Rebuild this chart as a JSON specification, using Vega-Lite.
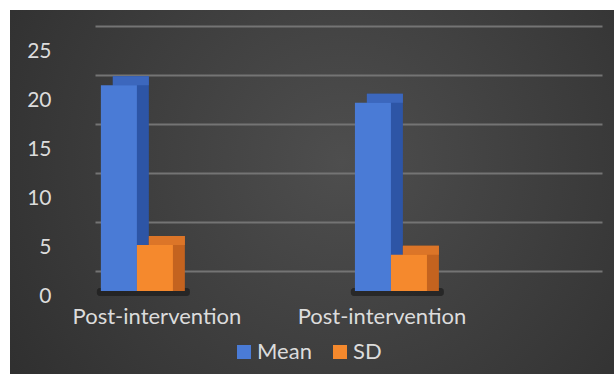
{
  "$schema": "https://vega.github.io/schema/vega-lite/v6.json",
  "width": 604,
  "height": 364,
  "autosize": "none",
  "padding": {"left": 10, "top": 10, "right": 0, "bottom": 0},
  "background": "white",
  "config": {
    "font": "Lato",
    "view": {
      "stroke": null,
      "fill": {"gradient": "radial", "x1": 0.55, "y1": 0.45, "r1": 0, "x2": 0.55, "y2": 0.45, "r2": 0.75,
        "stops": [{"offset": 0, "color": "#4e4e4e"}, {"offset": 1, "color": "#2b2b2b"}]}
    }
  },
  "data": {
    "values": [
      {"pair": 1, "group": "Post-intervention", "stat": "Mean", "value": 21.0},
      {"pair": 1, "group": "Post-intervention", "stat": "SD", "value": 4.7},
      {"pair": 2, "group": "Post-intervention", "stat": "Mean", "value": 19.2},
      {"pair": 2, "group": "Post-intervention", "stat": "SD", "value": 3.7}
    ]
  },
  "layer": [
    {
      "mark": {"type": "bar", "color": "#181818", "opacity": 0.4, "cornerRadius": 3},
      "encoding": {
        "x": {"field": "pair", "type": "ordinal", "scale": {"paddingInner": 0.634, "paddingOuter": 0.506, "align": 0.338}, "axis": null},
        "y": {"datum": 0.3, "type": "quantitative", "scale": {"domain": [-8.47, 28.67], "nice": false, "zero": false}, "axis": null},
        "y2": {"datum": -0.5}
      }
    },
    {
      "mark": {"type": "bar", "yOffset": -9, "y2Offset": -9},
      "encoding": {
        "x": {"field": "pair", "type": "ordinal", "scale": {"paddingInner": 0.7165, "paddingOuter": 0.547, "align": 0.370}, "axis": null},
        "xOffset": {"field": "stat", "type": "nominal", "scale": {"paddingInner": 0, "paddingOuter": 0}},
        "y": {"field": "value", "type": "quantitative", "stack": null,
          "scale": {"domain": [-8.47, 28.67], "nice": false, "zero": false},
          "axis": {"orient": "right", "values": [0, 5, 10, 15, 20, 25], "labels": false, "title": null, "domain": false, "grid": false,
            "ticks": true, "tickSize": -507, "tickOffset": -20, "tickColor": "#747474", "tickWidth": 2, "offset": -12}},
        "color": {"field": "stat", "type": "nominal", "scale": {"domain": ["Mean", "SD"], "range": ["#2d55a6", "#c4631f"]}, "legend": null}
      }
    },
    {
      "mark": {"type": "bar", "yOffset": -9, "y2Offset": 0},
      "encoding": {
        "x": {"field": "pair", "type": "ordinal", "scale": {"paddingInner": 0.7165, "paddingOuter": 0.547, "align": 0.370}, "axis": null},
        "xOffset": {"field": "stat", "type": "nominal", "scale": {"paddingInner": 0, "paddingOuter": 0}},
        "y": {"field": "value", "type": "quantitative", "stack": null,
          "scale": {"domain": [-8.47, 28.67], "nice": false, "zero": false}, "axis": null},
        "y2": {"field": "value"},
        "color": {"field": "stat", "type": "nominal", "scale": {"domain": ["Mean", "SD"], "range": ["#3c67bd", "#dc7528"]}, "legend": null}
      }
    },
    {
      "mark": {"type": "bar"},
      "encoding": {
        "x": {"field": "pair", "type": "ordinal", "scale": {"paddingInner": 0.7165, "paddingOuter": 0.547, "align": 0.327},
          "axis": {"title": null, "labelExpr": "'Post-intervention'", "labelAngle": 0, "domain": false, "ticks": false, "labelPadding": 0,
            "offset": -68, "labelFontSize": 22, "labelColor": "#dcdcdc",
            "labelOffset": {"condition": {"test": "datum.value == 1", "value": 20}, "value": -9}}},
        "xOffset": {"field": "stat", "type": "nominal", "scale": {"paddingInner": 0, "paddingOuter": 0}},
        "y": {"field": "value", "type": "quantitative", "stack": null,
          "scale": {"domain": [-8.47, 28.67], "nice": false, "zero": false},
          "axis": {"orient": "left", "values": [0, 5, 10, 15, 20, 25], "title": null, "grid": false, "ticks": false, "domain": false,
            "offset": -41, "labelPadding": 0, "labelOffset": 6, "labelFontSize": 21, "labelColor": "#dcdcdc"}},
        "color": {"field": "stat", "type": "nominal", "scale": {"domain": ["Mean", "SD"], "range": ["#4a7bd6", "#f5892d"]},
          "legend": {"orient": "none", "legendX": 223, "legendY": 331, "direction": "horizontal", "title": null, "symbolType": "square",
            "symbolSize": 196, "symbolStrokeWidth": 0, "labelFontSize": 22, "labelColor": "#dcdcdc", "columnPadding": 17, "labelOffset": 2, "padding": 0}}
      }
    }
  ],
  "resolve": {"scale": {"x": "independent", "color": "independent"}, "axis": {"y": "independent"}}
}
